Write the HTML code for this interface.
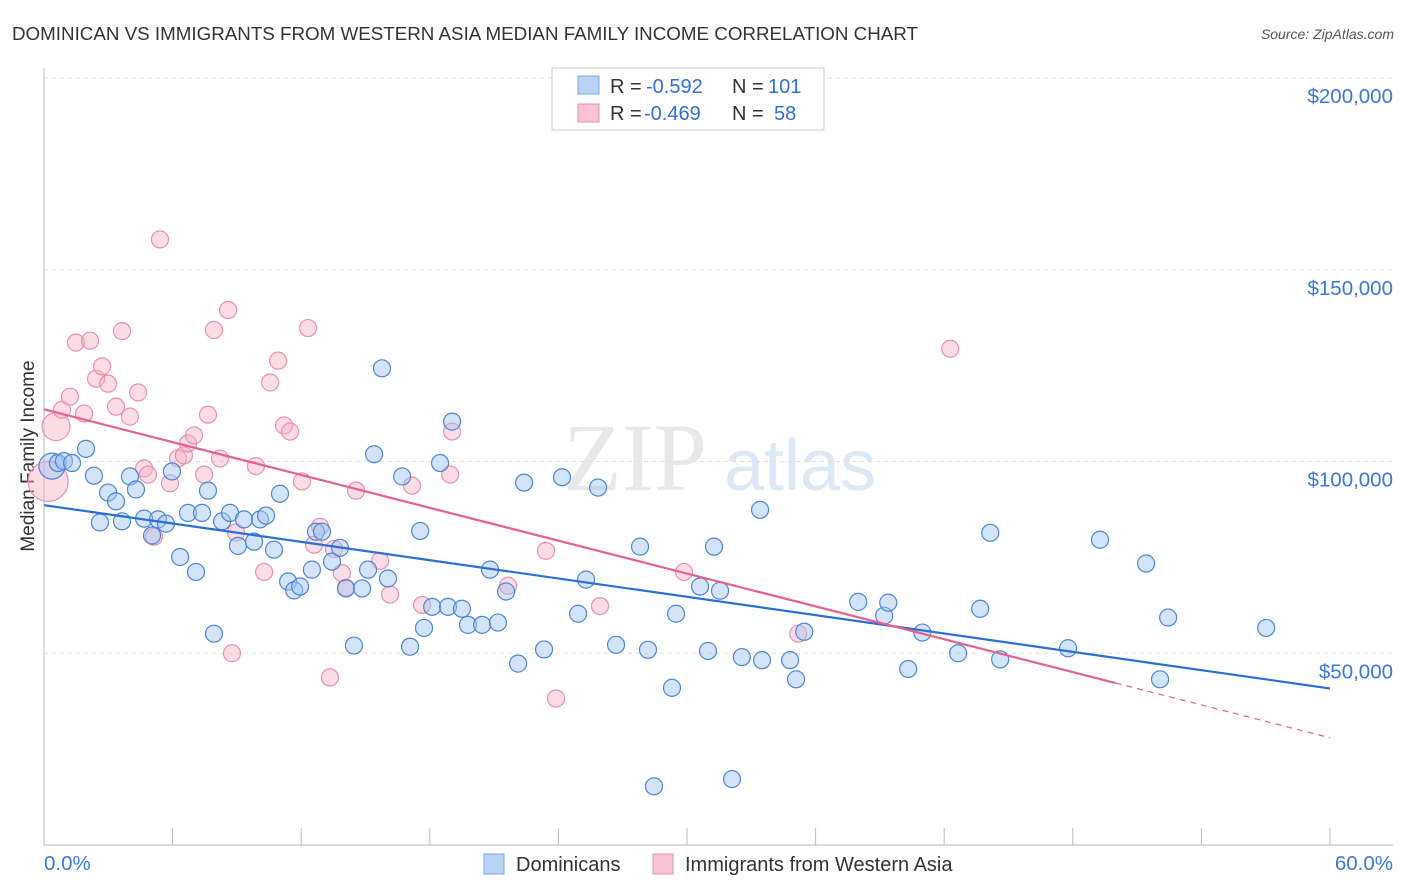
<!DOCTYPE html>
<html><head><meta charset="utf-8"><style>
body{margin:0;background:#fff;font-family:"Liberation Sans",sans-serif;}
svg{display:block}
</style></head><body>
<svg id="chart" width="1406" height="892">
<text x="12" y="40" font-size="18" fill="#333" textLength="906" lengthAdjust="spacingAndGlyphs">DOMINICAN VS IMMIGRANTS FROM WESTERN ASIA MEDIAN FAMILY INCOME CORRELATION CHART</text>
<text x="1394" y="39" font-size="14" fill="#555" font-style="italic" text-anchor="end">Source: ZipAtlas.com</text>
<text x="635" y="490" font-size="96" fill="#e8e8e8" font-family="Liberation Serif" text-anchor="middle">ZIP</text>
<text x="800" y="490" font-size="72" fill="#dde8f5" text-anchor="middle">atlas</text>
<g id="grid"></g>
<g id="axes"></g>
<text transform="translate(34,456) rotate(-90)" font-size="19" fill="#333" text-anchor="middle">Median Family Income</text>
<g id="pts"></g>
<g id="lines"></g>
<g>
<rect x="552" y="68" width="272" height="62" fill="#fff" stroke="#ccc"/>
<rect x="578" y="76" width="21" height="18" fill="#b8d3f5" stroke="#7aa8e0"/>
<rect x="578" y="104" width="21" height="18" fill="#f9c2d2" stroke="#e890aa"/>
<text x="610" y="93" font-size="20" fill="#333">R =</text>
<text x="646" y="93" font-size="20" fill="#2f6fd6">-0.592</text>
<text x="732" y="93" font-size="20" fill="#333">N =</text>
<text x="768" y="93" font-size="20" fill="#2f6fd6">101</text>
<text x="610" y="120" font-size="20" fill="#333">R =</text>
<text x="644" y="120" font-size="20" fill="#2f6fd6">-0.469</text>
<text x="732" y="120" font-size="20" fill="#333">N =</text>
<text x="774" y="120" font-size="20" fill="#2f6fd6">58</text>
</g>
<g>
<rect x="484" y="854" width="20" height="20" fill="#b8d3f5" stroke="#7aa8e0"/>
<text x="516" y="871" font-size="20" fill="#333">Dominicans</text>
<rect x="653" y="854" width="20" height="20" fill="#f9c2d2" stroke="#e890aa"/>
<text x="685" y="871" font-size="20" fill="#333">Immigrants from Western Asia</text>
</g>
</svg>
<script>
const yTicks=[50000,100000,150000,200000];
const yTickLabels=["$50,000","$100,000","$150,000","$200,000"];
const xTickVals=[0,6,12,18,24,30,36,42,48,54,60];
const blueX=[0.37,0.65,0.93,1.31,1.96,2.33,2.61,2.99,3.36,3.64,4.01,4.29,4.67,5.04,5.32,5.69,5.97,6.35,6.72,7.09,7.37,7.65,7.93,8.31,8.68,9.05,9.33,9.8,10.08,10.36,10.73,11.01,11.39,11.67,11.95,12.5,12.69,12.97,13.44,13.81,14.09,14.46,14.84,15.12,15.4,15.77,16.05,16.71,17.08,17.55,17.73,18.11,18.48,18.85,19.04,19.5,19.78,20.44,20.81,21.18,21.56,22.12,22.4,23.33,24.17,24.92,25.29,25.85,26.69,27.81,28.18,28.46,29.3,29.49,30.61,30.98,31.26,31.54,32.56,32.1,33.41,33.5,34.81,35.09,35.47,37.99,39.2,39.39,40.98,40.32,42.65,43.68,44.15,44.61,47.78,49.27,51.42,52.07,52.45,57.02];
const blueY=[98.8,99.6,100.1,99.6,103.3,96.3,84.1,91.9,89.6,84.4,96.1,92.7,85.1,80.7,84.9,83.8,97.4,75.1,86.6,71.2,86.6,92.4,55.1,84.4,86.6,78.0,84.9,79.1,84.9,85.9,77.0,91.6,68.7,66.4,67.4,71.8,81.7,81.7,73.9,77.5,66.9,52.0,66.9,71.8,101.9,124.3,69.5,96.1,51.7,81.9,56.6,62.1,99.6,62.1,110.4,61.6,57.4,57.4,71.8,58.0,66.1,47.3,94.5,51.0,95.9,60.3,69.2,93.2,52.2,77.8,50.9,15.3,41.0,60.3,67.4,50.6,77.8,66.3,49.0,17.2,87.4,48.2,48.2,43.2,55.6,63.4,59.8,63.2,55.4,45.9,50.0,61.6,81.4,48.4,51.3,79.6,73.4,43.2,59.3,56.6];
const pinkX=[0.19,0.56,0.84,1.21,1.49,1.87,2.15,2.43,2.71,2.99,3.36,3.64,4.01,4.39,4.67,4.85,5.13,5.41,5.88,6.25,6.53,6.72,7.0,7.47,7.65,7.93,8.21,8.59,8.96,9.89,10.27,10.55,10.92,11.2,11.48,12.04,12.32,12.6,12.88,13.53,13.9,14.09,13.34,14.56,15.68,16.15,17.17,17.64,18.95,19.04,21.65,23.42,23.89,25.94,29.86,35.19,42.28,8.77];
const pinkY=[94.8,109.1,113.5,116.9,131.0,112.5,131.5,121.6,124.8,120.3,114.3,134.0,111.7,118.0,98.2,96.6,80.4,157.9,94.3,100.8,101.6,104.7,106.8,96.6,112.2,134.3,100.8,139.5,81.5,98.8,71.2,120.6,126.3,109.4,107.8,94.8,134.8,78.3,83.0,77.2,70.9,67.1,43.7,92.4,74.1,65.3,93.7,62.6,96.6,107.8,67.6,76.7,38.2,62.3,71.2,55.1,129.4,50.0];
const NS="http://www.w3.org/2000/svg";
const X0=44,X1=1330,YT=78,YB=845;
function xs(p){return X0+p/60*(X1-X0);}
function ys(v){return YB-v/200000*(YB-YT);}
function mk(t,a,parent){const e=document.createElementNS(NS,t);for(const k in a)e.setAttribute(k,a[k]);parent.appendChild(e);return e;}
const grid=document.getElementById('grid'),axes=document.getElementById('axes'),pts=document.getElementById('pts'),lines=document.getElementById('lines');
yTicks.forEach((v,i)=>{
 const l=mk('line',{x1:X0,x2:1393,y1:ys(v),y2:ys(v),stroke:'#ddd','stroke-dasharray':'4,4'},grid);
 
 
 const t=mk('text',{x:1393,y:ys(v)+25,'font-size':20.5,fill:'#3a78d8','text-anchor':'end'},axes);
 t.textContent=yTickLabels[i];
 
 
});
const ax=mk('line',{x1:X0,x2:1393,y1:YB,y2:YB,stroke:'#bbb'},axes);


const ay=mk('line',{x1:X0,x2:X0,y1:68,y2:YB,stroke:'#bbb'},axes);


xTickVals.forEach(p=>{
 const t=mk('line',{x1:xs(p),x2:xs(p),y1:828,y2:YB,stroke:'#bbb'},axes);
 
 
});
const l0=mk('text',{x:44,y:870,'font-size':20.5,fill:'#3a78d8'},axes);l0.textContent='0.0%';


const l1=mk('text',{x:1393,y:870,'font-size':20.5,fill:'#3a78d8','text-anchor':'end'},axes);l1.textContent='60.0%';


function dots(X,Y,fill,stroke,name){X.forEach((x,i)=>{
 const r=(i===0&&name==='pink-point')?20:(i===1&&name==='pink-point')?14:(i===0?13:8.5);
 const c=mk('circle',{cx:xs(x),cy:ys(Y[i]*1000),r:r,fill:fill,stroke:stroke,'stroke-width':1.2},pts);
 
 
});}
dots(pinkX,pinkY,'rgba(249,180,200,0.45)','#eb8fac','pink-point');
dots(blueX,blueY,'rgba(160,196,240,0.45)','#4a86d6','blue-point');
function fit(X,Y){const n=X.length;let mx=0,my=0;X.forEach((x,i)=>{mx+=x;my+=Y[i];});mx/=n;my/=n;let sxy=0,sxx=0;X.forEach((x,i)=>{sxy+=(x-mx)*(Y[i]-my);sxx+=(x-mx)**2;});const b=sxy/sxx;return [my-b*mx,b];}
const fb=fit(blueX,blueY),fp=fit(pinkX,pinkY);
const bl=mk('line',{x1:xs(0),y1:ys(fb[0]*1000),x2:xs(60),y2:ys((fb[0]+fb[1]*60)*1000),stroke:'#2a6fd6','stroke-width':2.2},lines);


const pe=50;
const pl=mk('line',{x1:xs(0),y1:ys(fp[0]*1000),x2:xs(pe),y2:ys((fp[0]+fp[1]*pe)*1000),stroke:'#e8608e','stroke-width':2.2},lines);


const pd=mk('line',{x1:xs(pe),y1:ys((fp[0]+fp[1]*pe)*1000),x2:xs(60),y2:ys((fp[0]+fp[1]*60)*1000),stroke:'#e8608e','stroke-width':1.2,'stroke-dasharray':'6,5'},lines);


</script>
</body></html>
